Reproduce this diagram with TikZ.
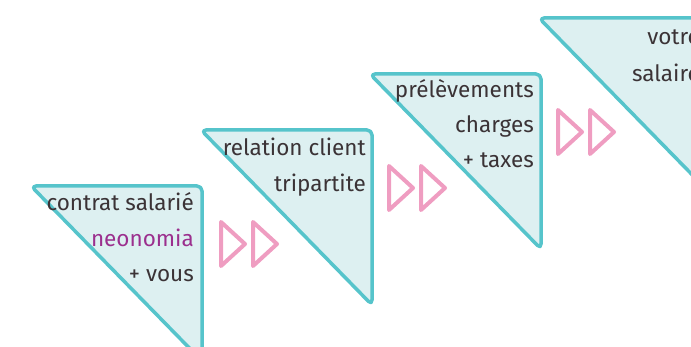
\documentclass[tikz,border=0pt]{standalone}
\usepackage{fontspec}
\setmainfont{Fira Sans}
\definecolor{tealline}{HTML}{56C4CB}
\definecolor{tealfill}{HTML}{DDF0F1}
\definecolor{txt}{HTML}{3B3336}
\definecolor{purp}{HTML}{9B2F8E}
\definecolor{pinkarr}{HTML}{EF9DC1}
\tikzset{
  tri/.style={draw=tealline, fill=tealfill, line width=3.5pt, rounded corners=5pt, line join=round},
  lbl/.style={anchor=base east, inner sep=0pt, text=txt, font=\fontsize{22.5}{26}\selectfont},
  arr/.style={draw=pinkarr, line width=4pt, line join=round, line cap=round},
}
\newcommand{\steptri}[3]{% name, right x, top y
  \draw[tri] (#2-171,#3) -- (#2,#3) -- (#2,#3+175) -- cycle;
  \coordinate (#1) at (#2,#3);
}
\newcommand{\dblarrow}[3]{% name, left x, center y
  \coordinate (#1) at (#2,#3);
  \draw[arr] (#2,#3-22) -- (#2+24,#3) -- (#2,#3+22) -- cycle;
  \draw[arr] (#2+32,#3-22) -- (#2+56,#3) -- (#2+32,#3+22) -- cycle;
}
\begin{document}
\begin{tikzpicture}[x=1pt,y=-1pt]
\useasboundingbox (0,0) rectangle (691,347);
\clip (0,0) rectangle (691,347);
\steptri{t1}{202}{186}
\steptri{t2}{372}{130}
\steptri{t3}{541}{74}
\steptri{t4}{710}{18}
\node[lbl] (l11) at ([shift={(-8,25)}]t1) {contrat salarié};
\node[lbl, text=purp] (l12) at ([shift={(-8,61)}]t1) {neonomia};
\node[lbl] (l13) at ([shift={(-8,96)}]t1) {+ vous};
\node[lbl] (l21) at ([shift={(-6,26)}]t2) {relation client};
\node[lbl] (l22) at ([shift={(-6,62)}]t2) {tripartite};
\node[lbl] (l31) at ([shift={(-7,24)}]t3) {prélèvements};
\node[lbl] (l32) at ([shift={(-7,59)}]t3) {charges};
\node[lbl] (l33) at ([shift={(-7,94)}]t3) {+ taxes};
\node[lbl] (l41) at ([shift={(-10,27)}]t4) {votre};
\node[lbl] (l42) at ([shift={(-10,64)}]t4) {salaire};
\dblarrow{a1}{221}{244}
\dblarrow{a2}{389}{188}
\dblarrow{a3}{558}{132}
\end{tikzpicture}
\end{document}
